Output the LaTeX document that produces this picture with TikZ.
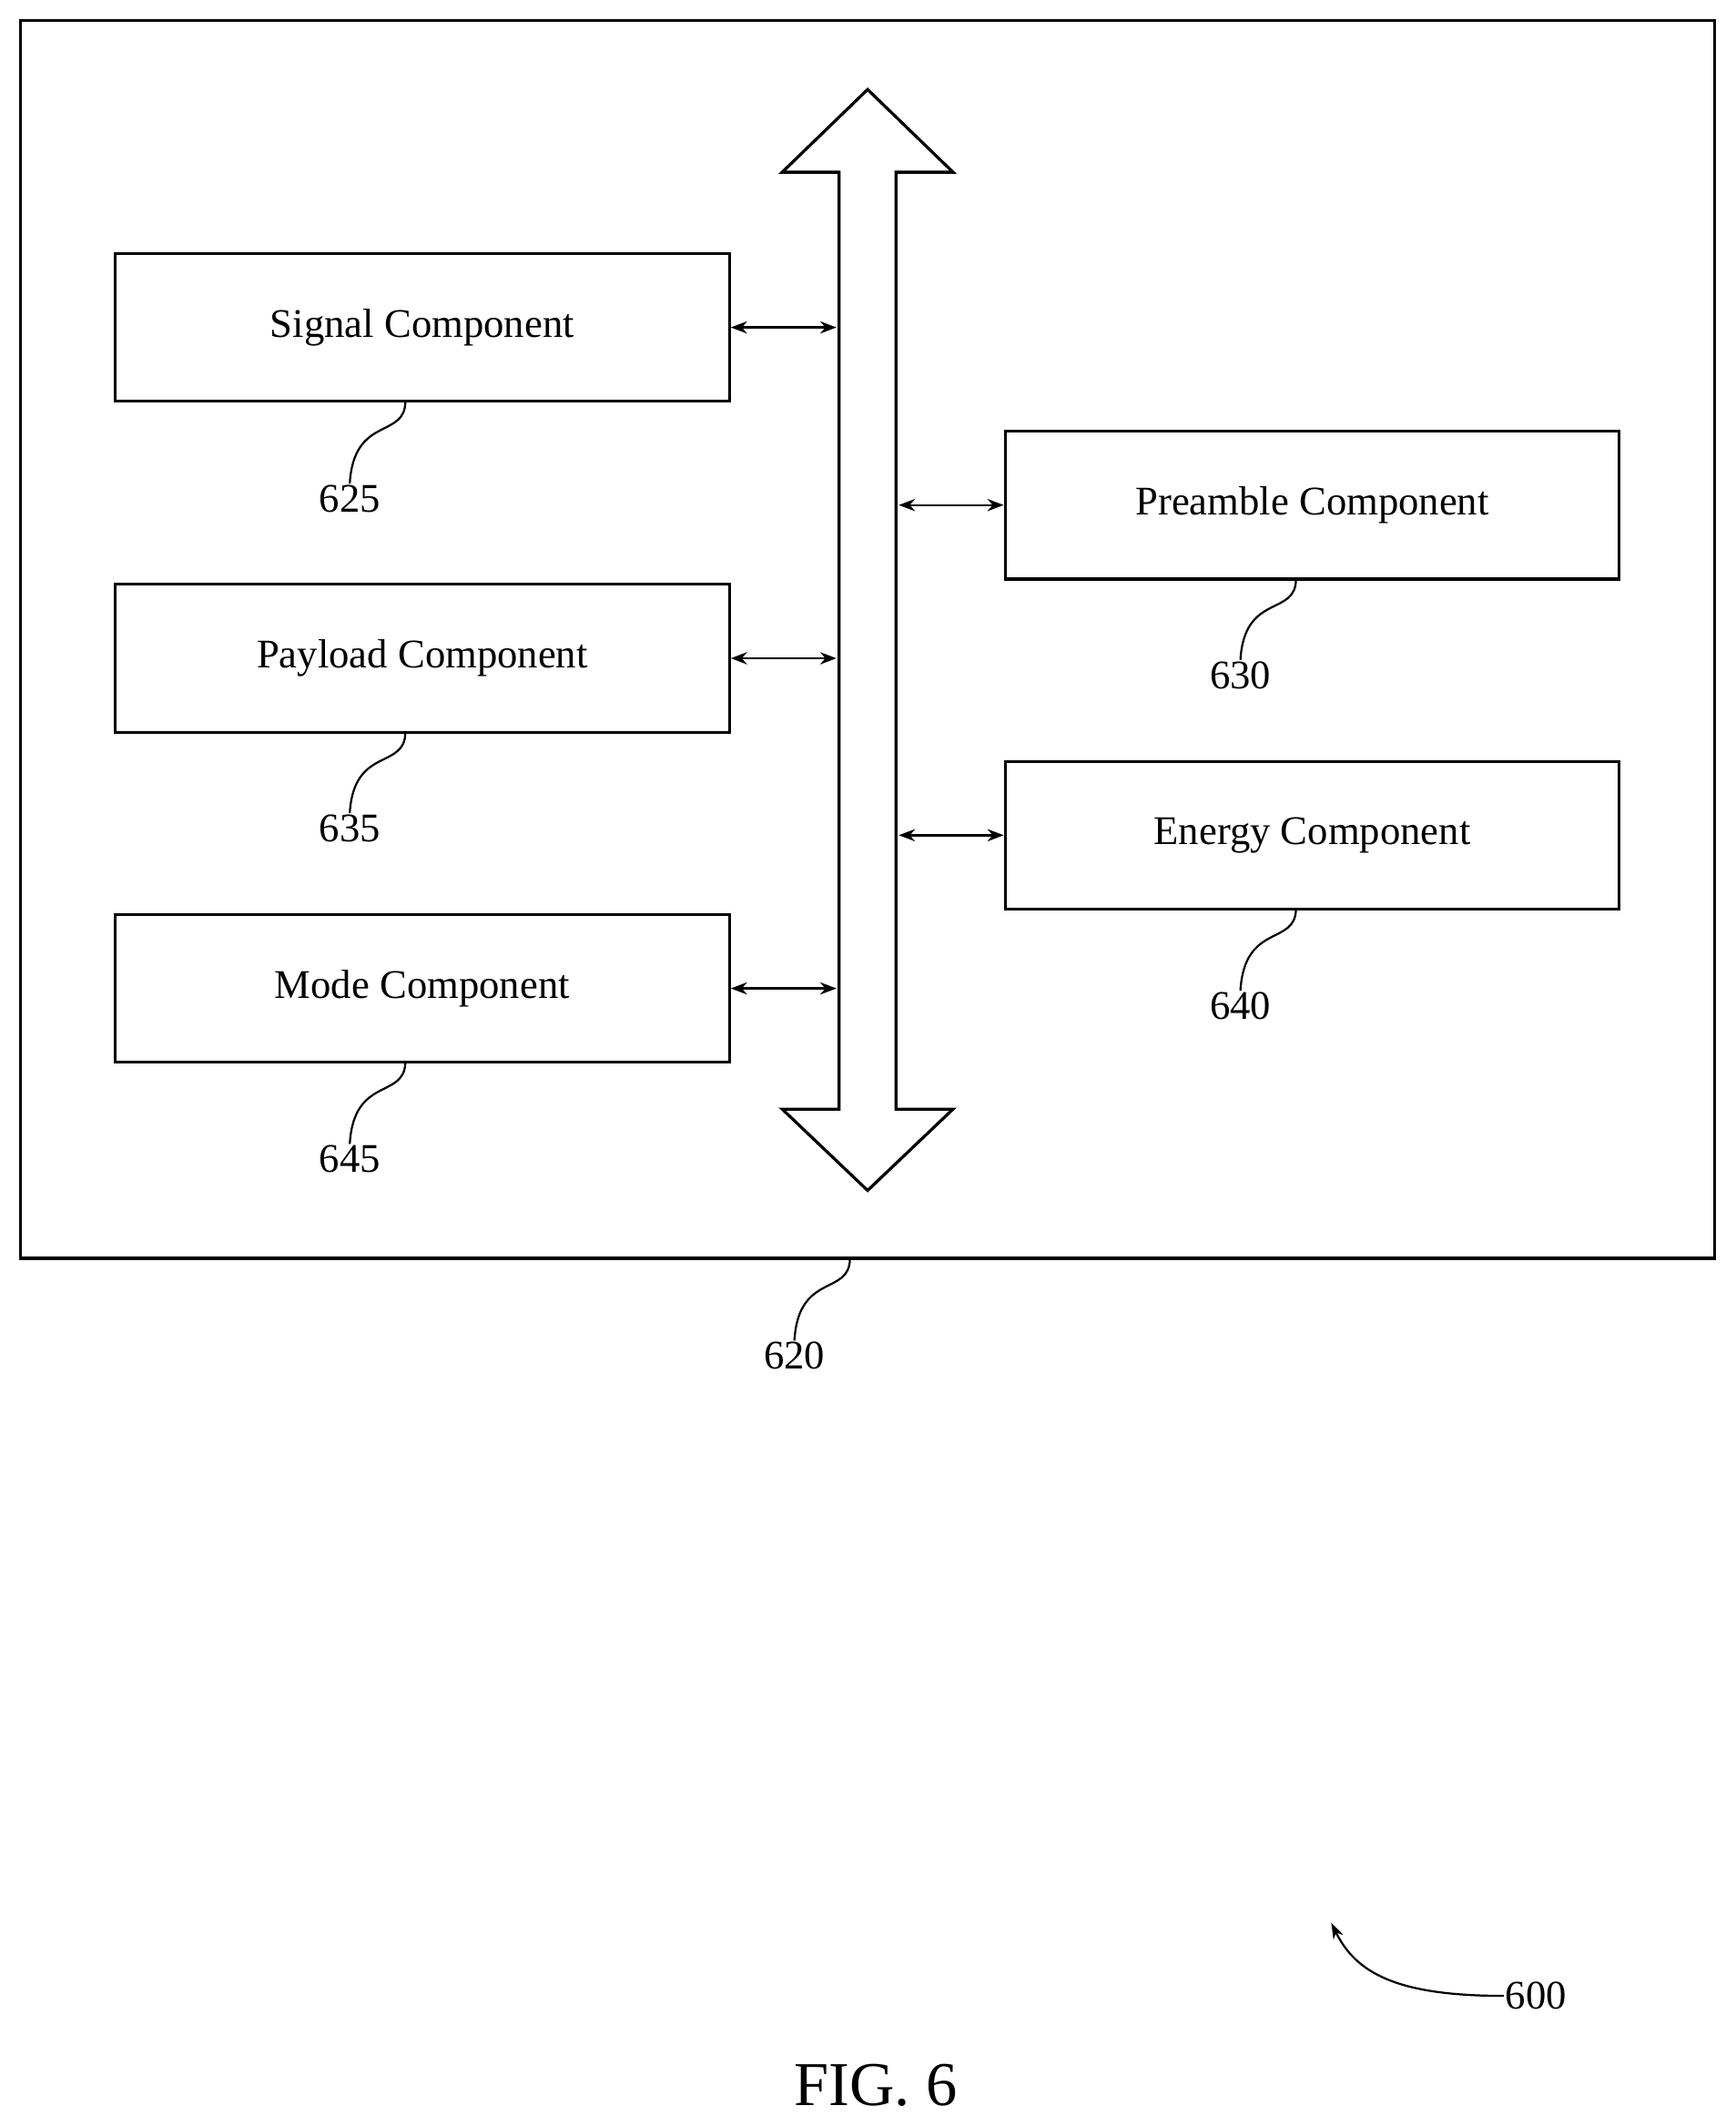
\documentclass[tikz,border=0pt]{standalone}
\usepackage{fontspec}
\setmainfont{Liberation Serif}
\usetikzlibrary{arrows.meta}
\begin{document}
\begin{tikzpicture}[x=1pt,y=-1pt,
  comp/.style={draw,line width=2.2pt,minimum width=453pt,minimum height=109pt,inner sep=0pt,font=\fontsize{30}{36}\selectfont},
  lbl/.style={font=\fontsize{30}{36}\selectfont,inner sep=1pt},
  lead/.style={line width=1.5pt},
  dbl/.style={line width=1.6pt,{Stealth[length=12pt,width=9pt]}-{Stealth[length=12pt,width=9pt]}}]
\useasboundingbox (0,0) rectangle (1280,1568);
\draw[line width=2.2pt] (15,15) rectangle (1265,928);
\node[comp] (sig) at (311.5,241.5) {Signal Component};
\node[comp] (pay) at (311.5,485.5) {Payload Component};
\node[comp] (mod) at (311.5,729) {Mode Component};
\node[comp] (pre) at (968,372.5) {Preamble Component};
\node[comp] (ene) at (968,616) {Energy Component};
\draw[line width=2.2pt,fill=white] (619,127) -- (577,127) -- (640,66) -- (703,127) -- (661,127)
  -- (661,818) -- (703,818) -- (640,878) -- (577,818) -- (619,818) -- cycle;
\coordinate (bl1) at (617,241.5); \coordinate (bl2) at (617,485.5); \coordinate (bl3) at (617,729);
\coordinate (br1) at (663,372.5); \coordinate (br2) at (663,616);
\draw[dbl] (sig.east) -- (bl1);
\draw[dbl] (pay.east) -- (bl2);
\draw[dbl] (mod.east) -- (bl3);
\draw[dbl] (pre.west) -- (br1);
\draw[dbl] (ene.west) -- (br2);
\node[lbl] (l625) at (258,368) {625};
\node[lbl] (l635) at (258,611) {635};
\node[lbl] (l645) at (258,855) {645};
\node[lbl] (l630) at (915,498) {630};
\node[lbl] (l640) at (915,742) {640};
\node[lbl] (l620) at (586,1000) {620};
\foreach \n/\x/\y in {625/299/296,635/299/540,645/299/783,630/956/427,640/956/670,620/627/928}{
  \draw[lead] (\x,\y) .. controls (\x,\y+28) and (\x-38,\y+10) .. (l\n.north);
}
\node[lbl] (l600) at (1133,1472) {600};
\coordinate (a600) at (982,1418);
\draw[lead,-{Stealth[length=12pt,width=8pt]}] (l600.west) .. controls (1030,1472) and (1000,1455) .. (a600);
\node[font=\fontsize{46}{52}\selectfont] (fig) at (646,1538) {FIG. 6};
\end{tikzpicture}
\end{document}
